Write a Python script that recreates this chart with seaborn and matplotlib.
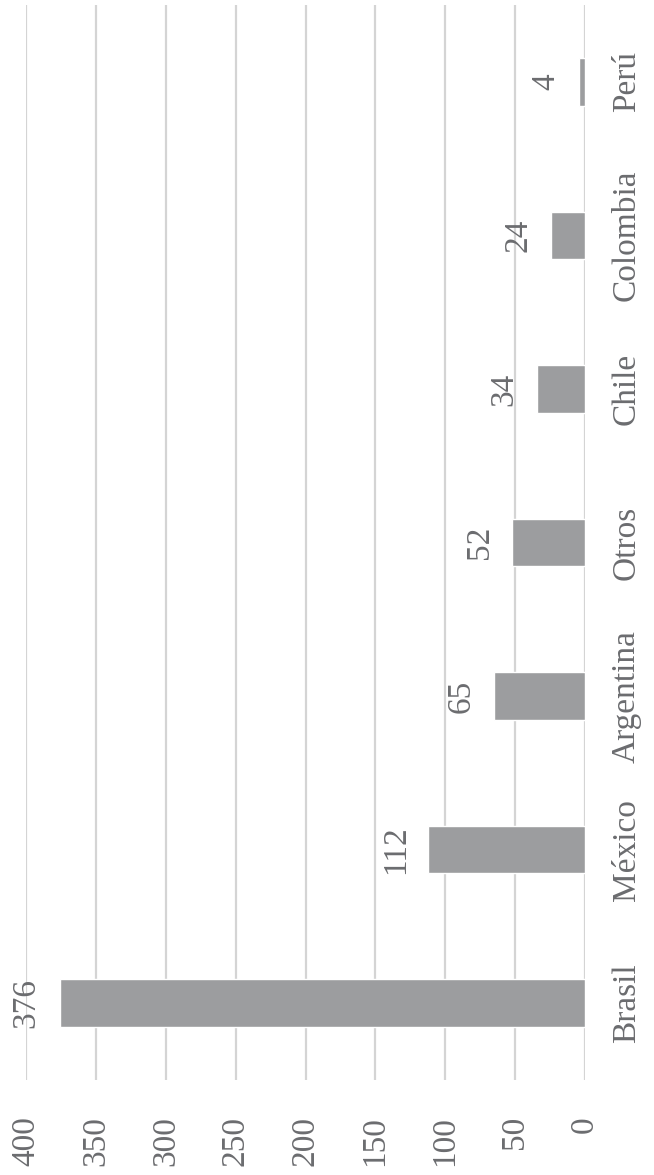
import matplotlib
matplotlib.use('Agg')
import matplotlib.pyplot as plt
import seaborn as sns
import pandas as pd

# Data (bottom to top in the rotated picture)
paises = ['Brasil', 'México', 'Argentina', 'Otros', 'Chile', 'Colombia', 'Perú']
valores = [376, 112, 65, 52, 34, 24, 4]
ticks = [0, 50, 100, 150, 200, 250, 300, 350, 400]

df = pd.DataFrame({'pais': paises, 'valor': valores})

sns.set_style('white')
plt.rcParams['font.family'] = ['Liberation Serif', 'DejaVu Serif']

text_color = '#6b6c6f'
bar_color = '#9c9d9f'
grid_color = '#d4d4d4'

fig = plt.figure(figsize=(6.54, 11.75), dpi=100)
ax = fig.add_axes([26 / 654, 95 / 1175, 559 / 654, 1075 / 1175])

# seaborn puts the first category on top, so reverse the order
sns.barplot(data=df, x='valor', y='pais', order=paises[::-1], orient='h',
            color=bar_color, width=0.31, saturation=1, ax=ax)

ax.set_xlim(400, 0)
ax.set_xticks(ticks)
ax.set_xticklabels([str(t) for t in ticks], rotation=90, fontsize=24,
                   color=text_color)
ax.tick_params(axis='x', length=0, pad=26)

ax.yaxis.tick_right()
ax.set_yticks(range(len(paises)))
ax.set_yticklabels(paises[::-1], rotation=90, fontsize=24, color=text_color,
                   va='center')
ax.tick_params(axis='y', length=0, pad=19)

ax.set_xlabel('')
ax.set_ylabel('')
ax.grid(axis='x', color=grid_color, linewidth=1.6)
ax.set_axisbelow(True)
for s in ax.spines.values():
    s.set_visible(False)

# value labels just beyond the bar ends
for i, (p, v) in enumerate(zip(paises[::-1], valores[::-1])):
    ax.annotate(str(v), xy=(v, i), xytext=(-33, 0), textcoords='offset pixels',
                rotation=90, ha='center', va='center', fontsize=24,
                color=text_color)

fig.savefig('out.png', dpi=100)
plt.close(fig)
